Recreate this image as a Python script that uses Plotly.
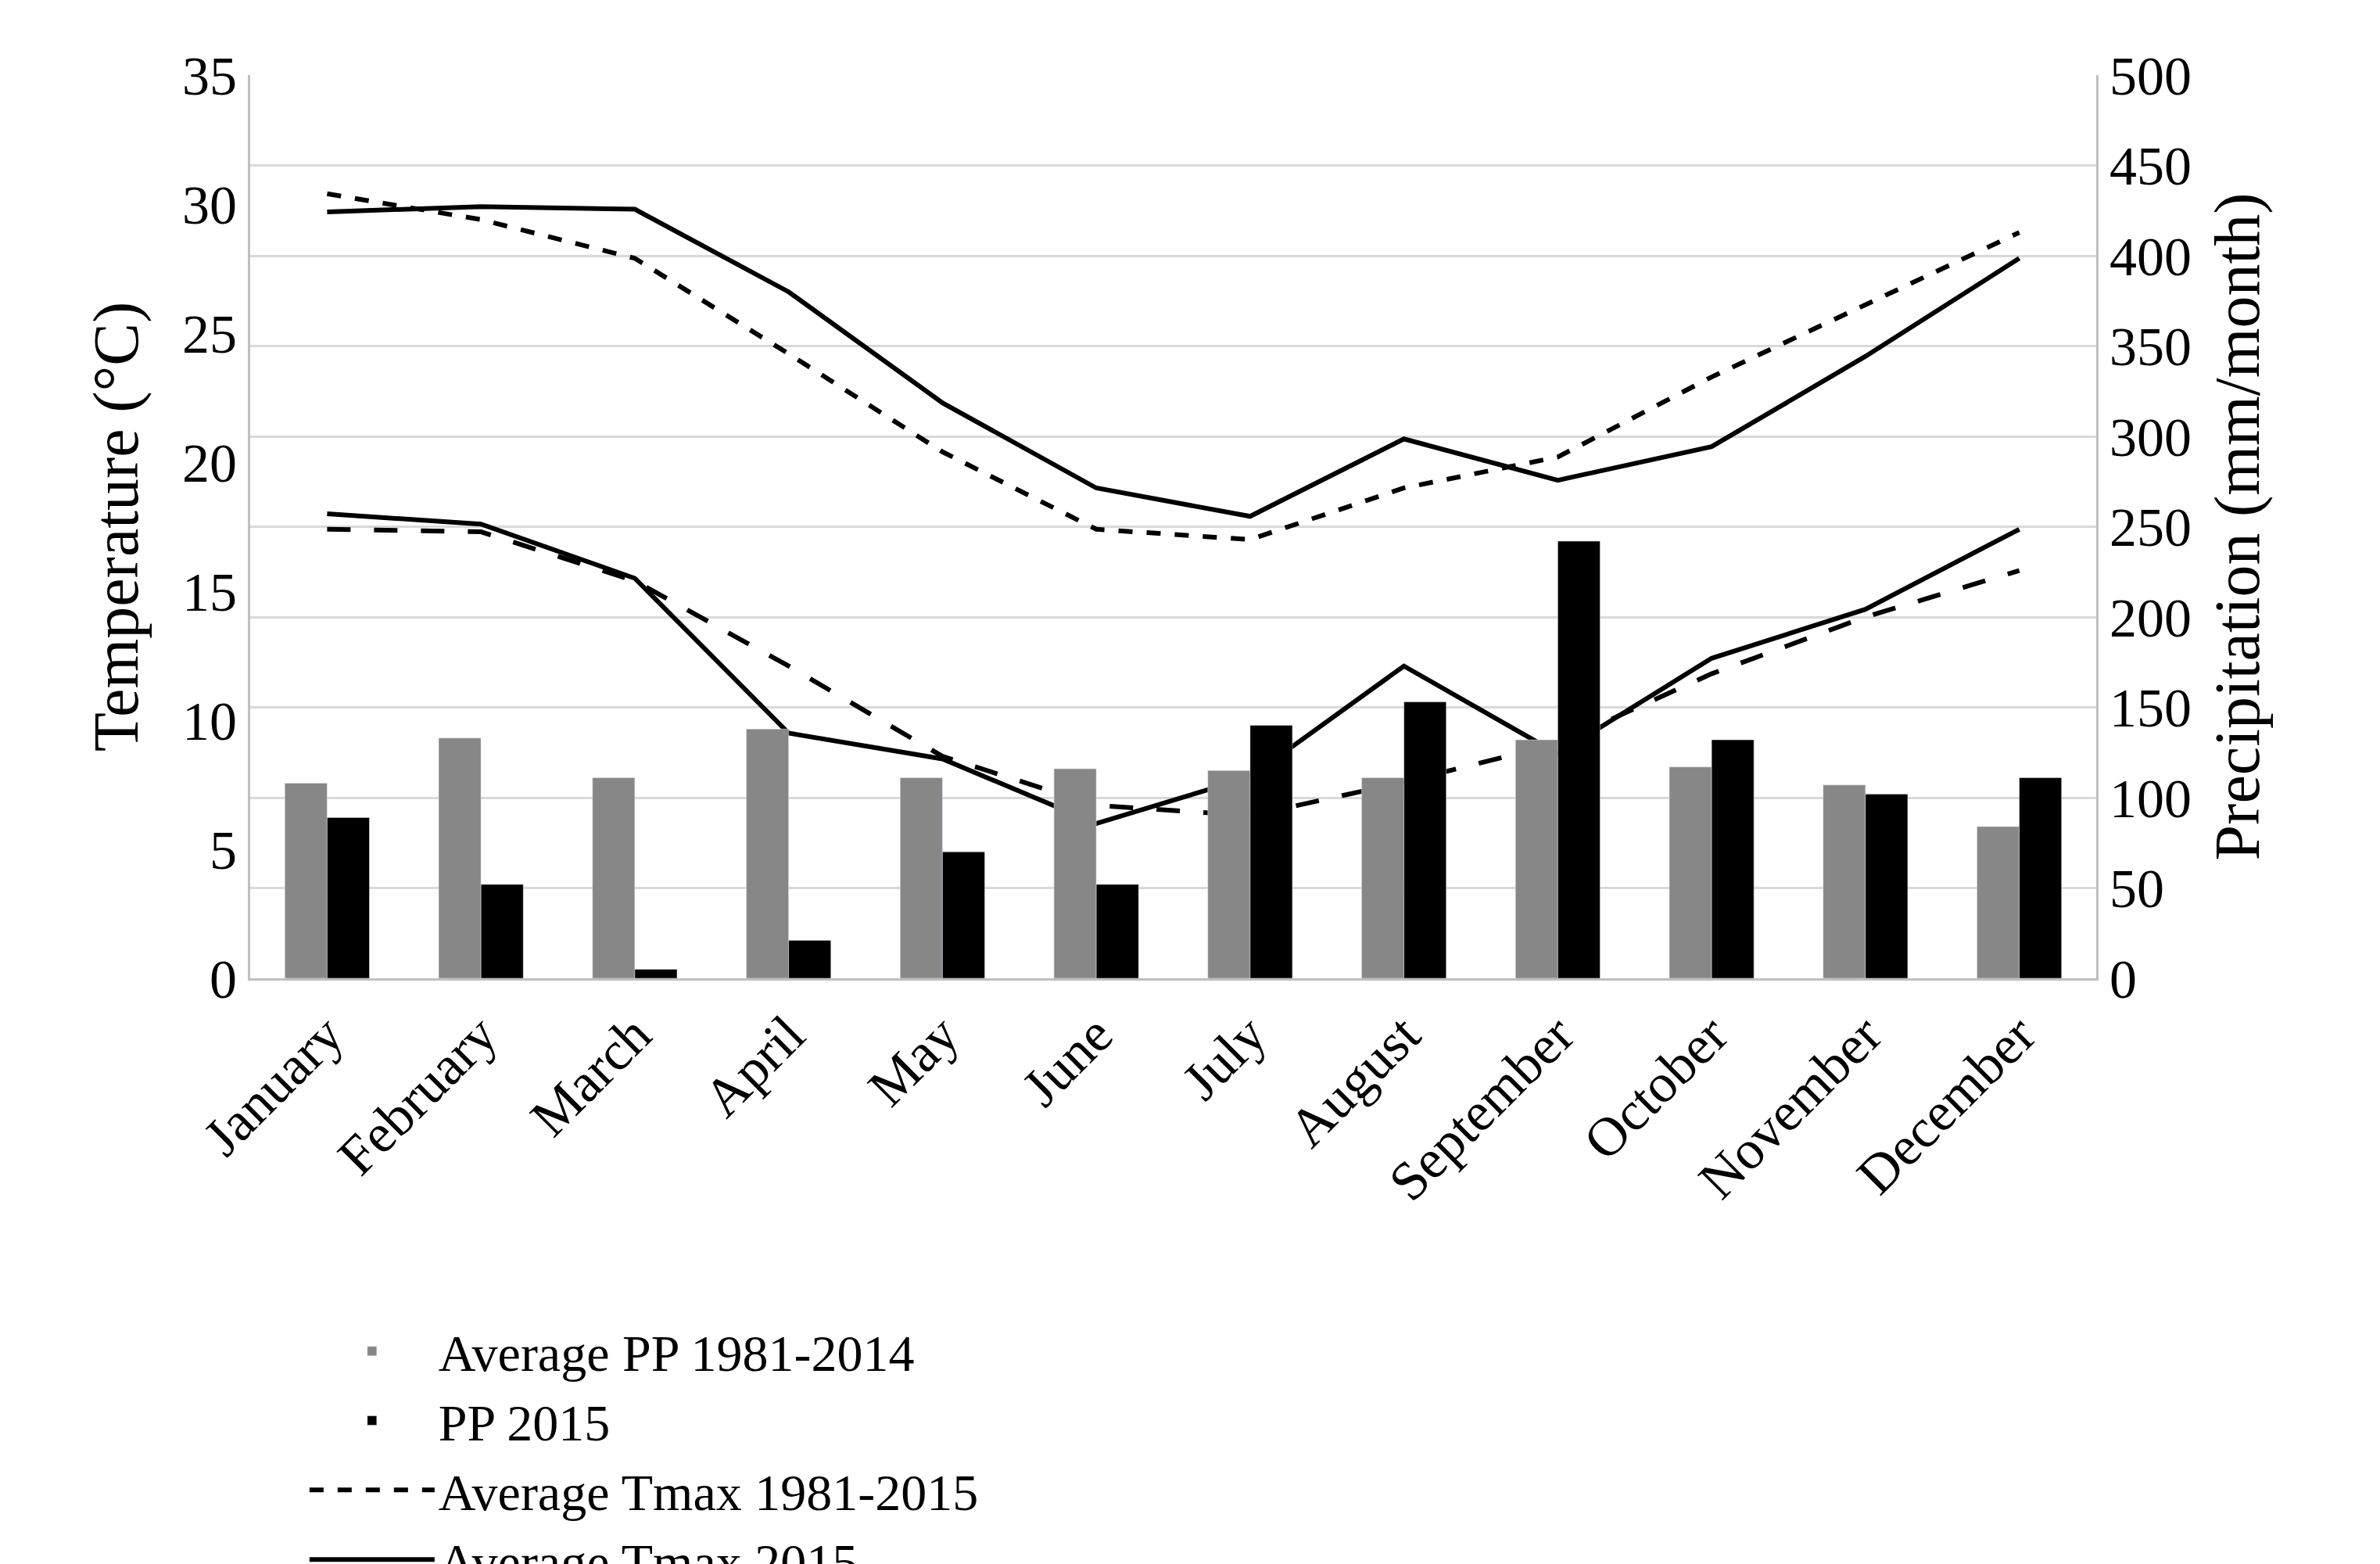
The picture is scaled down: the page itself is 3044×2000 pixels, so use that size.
import plotly.graph_objects as go

months = ["January","February","March","April","May","June","July","August","September","October","November","December"]
pp_avg = [108,133,111,138,111,116,115,111,132,117,107,84]
pp_2015 = [89,52,5,21,70,52,140,153,242,132,102,111]
tmax_avg = [30.4,29.4,27.9,24.2,20.4,17.4,17.0,19.0,20.2,23.3,26.1,28.9]
tmax_2015 = [29.7,29.9,29.8,26.6,22.3,19.0,17.9,20.9,19.3,20.6,24.1,27.9]
tmin_avg = [17.4,17.3,15.4,12.1,8.6,6.7,6.3,7.6,9.1,11.8,14.0,15.8]
tmin_2015 = [18.0,17.6,15.5,9.5,8.5,6.0,7.8,12.1,8.7,12.4,14.3,17.4]

fig = go.Figure()
fig.add_bar(x=months, y=pp_avg, name="Average PP 1981-2014", marker_color="#878787", yaxis="y2")
fig.add_bar(x=months, y=pp_2015, name="PP 2015", marker_color="#000000", yaxis="y2")
fig.add_scatter(x=months, y=tmax_avg, name="Average Tmax 1981-2015", mode="lines", line=dict(color="black", width=6, dash="dash"))
fig.add_scatter(x=months, y=tmax_2015, name="Average Tmax 2015", mode="lines", line=dict(color="black", width=6))
fig.add_scatter(x=months, y=tmin_avg, name="Average Tmin 1981-2015", mode="lines", line=dict(color="black", width=6, dash="longdash"))
fig.add_scatter(x=months, y=tmin_2015, name="Average Tmin 2015", mode="lines", line=dict(color="black", width=6))

font = "Liberation Serif"
fig.update_layout(
    width=3044, height=2000, plot_bgcolor="white", paper_bgcolor="white",
    margin=dict(l=312, r=371, t=88, b=757, autoexpand=False),
    font=dict(family=font, size=68, color="black"),
    barmode="group", bargap=0.45, bargroupgap=0,
    xaxis=dict(tickangle=-45, showline=True, linecolor="#bfbfbf", linewidth=3, ticks="", tickfont=dict(size=70)),
    yaxis=dict(range=[0,35], dtick=5, showgrid=False, showline=True, linecolor="#bfbfbf", linewidth=3,
               title=dict(text="Temperature (°C)", standoff=30), tickfont=dict(size=70), zeroline=False),
    yaxis2=dict(range=[0,500], dtick=50, overlaying="y", side="right", showgrid=True, gridcolor="#d9d9d9", gridwidth=3,
                showline=True, linecolor="#bfbfbf", linewidth=3, title=dict(text="Precipitation (mm/month)", standoff=30),
                tickfont=dict(size=70), zeroline=False),
    legend=dict(orientation="h", x=0.03, y=-0.37, xanchor="left", yanchor="top", entrywidth=1260, entrywidthmode="pixels",
                font=dict(size=66), traceorder="normal", itemwidth=160),
    showlegend=True,
)
fig.write_html("out.html")
